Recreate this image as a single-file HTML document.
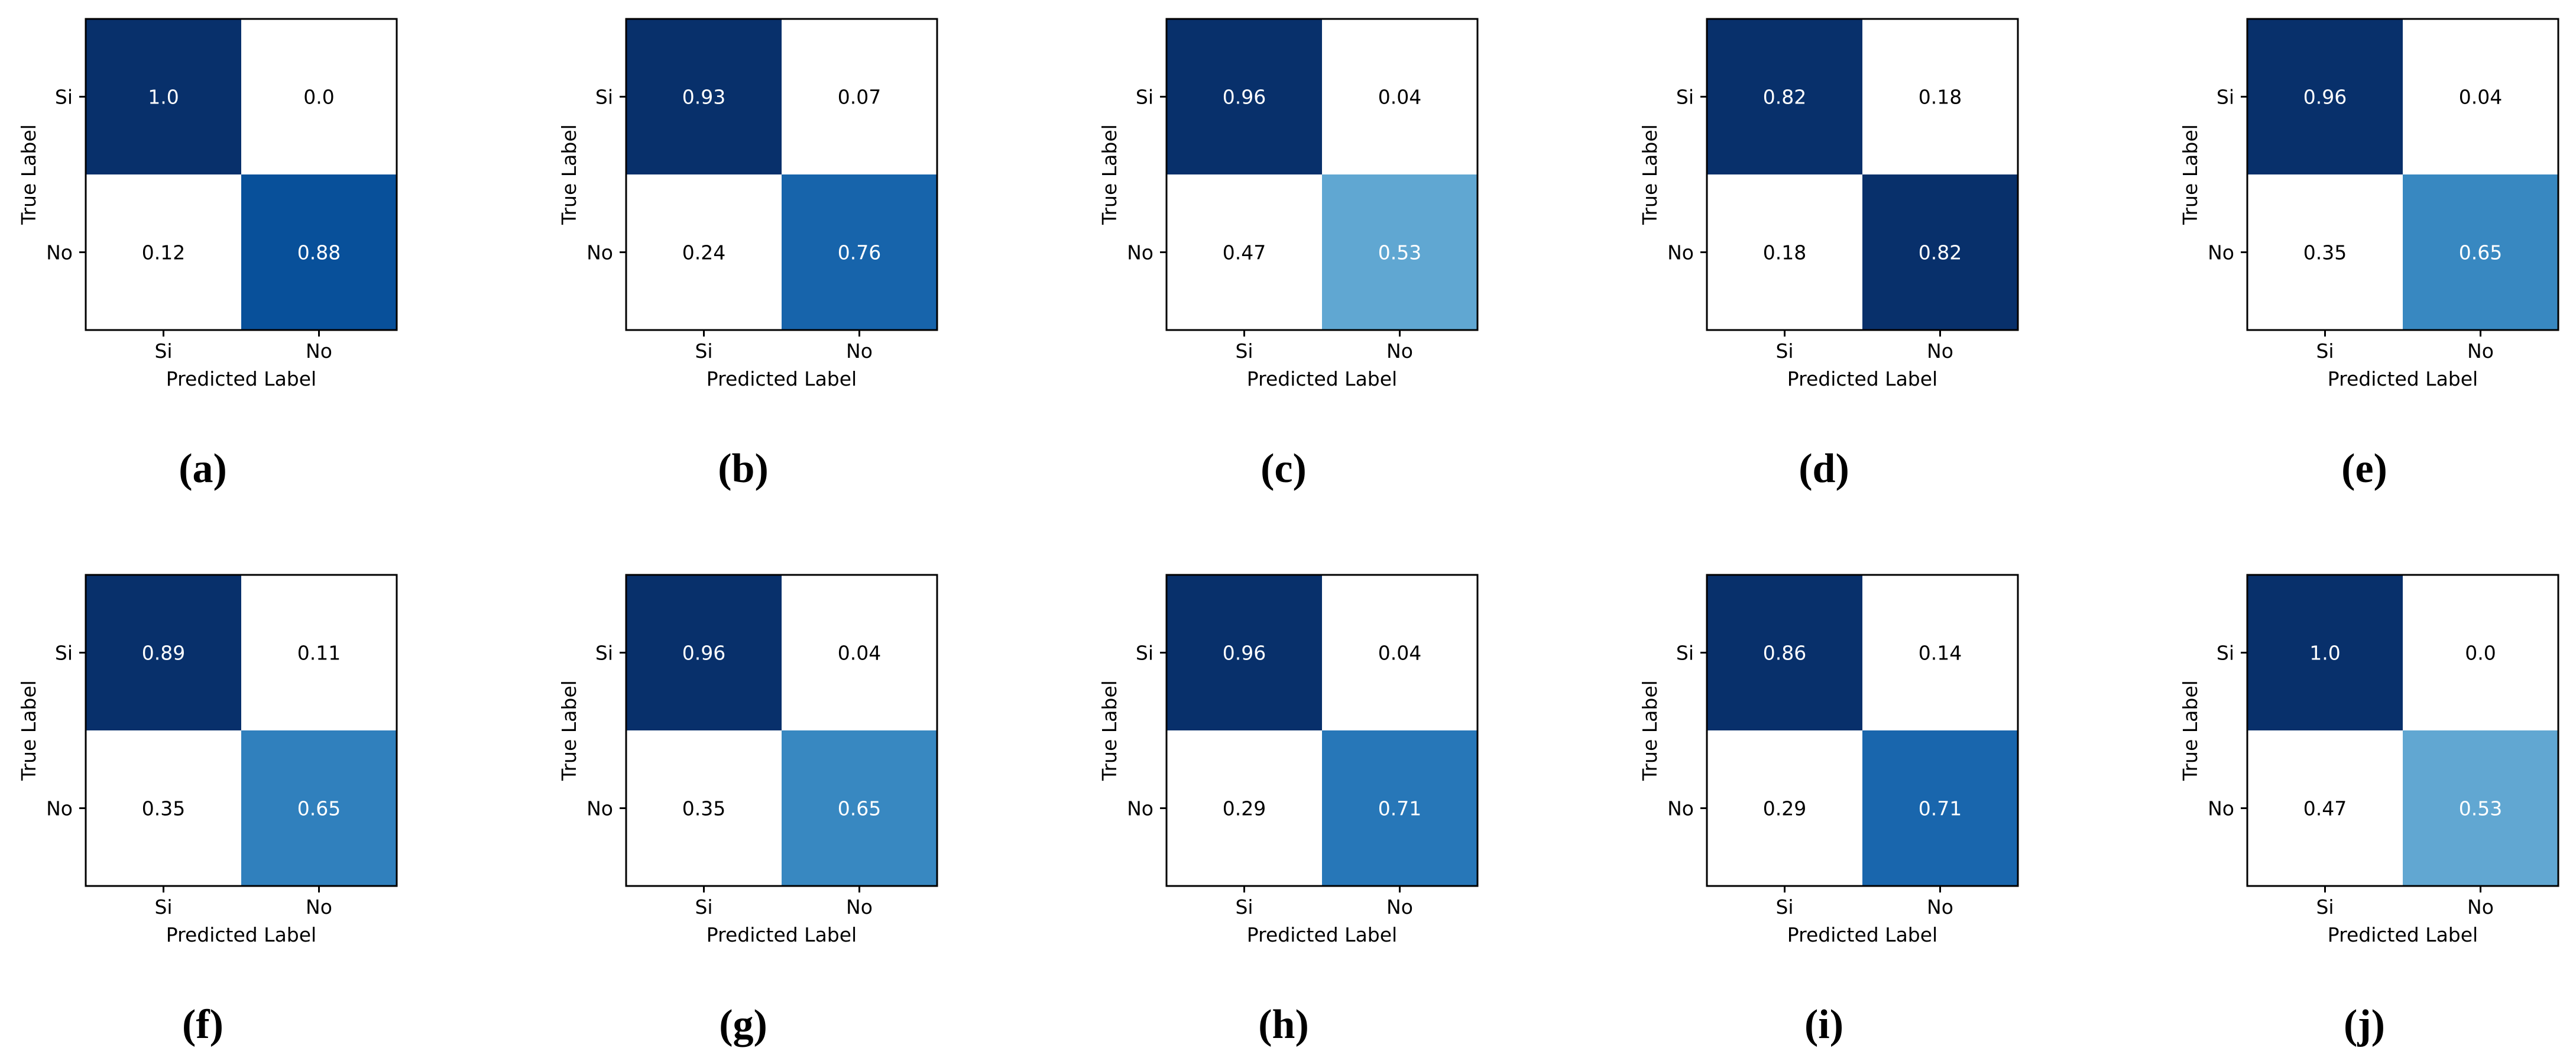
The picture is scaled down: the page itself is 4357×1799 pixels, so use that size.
<!DOCTYPE html>
<html><head><meta charset="utf-8">
<style>
html,body{margin:0;padding:0;background:#fff;}
svg{display:block;}
text{font-family:"DejaVu Sans","Liberation Sans",sans-serif;}
.cap{font-family:"Liberation Serif",serif;font-weight:bold;}
</style></head>
<body>
<svg id="fig" width="4357" height="1799" viewBox="0 0 4357 1799" xmlns="http://www.w3.org/2000/svg"></svg>
<script>
// panel data: row "Si" = [Si,No] predictions, row "No" = [Si,No] predictions
const captions = ["a","b","c","d","e","f","g","h","i","j"];
const rowSi = [[1.0,0.0],[0.93,0.07],[0.96,0.04],[0.82,0.18],[0.96,0.04],[0.89,0.11],[0.96,0.04],[0.96,0.04],[0.86,0.14],[1.0,0.0]];
const rowNo = [[0.12,0.88],[0.24,0.76],[0.47,0.53],[0.18,0.82],[0.35,0.65],[0.35,0.65],[0.35,0.65],[0.29,0.71],[0.29,0.71],[0.47,0.53]];
const classLabels = ["Si","No"];

const blues = ["#f7fbff","#deebf7","#c6dbef","#9ecae1","#6baed6","#4292c6","#2171b5","#08519c","#08306b"];
function hex2rgb(h){return [1,3,5].map(i=>parseInt(h.substr(i,2),16));}
function cmap(t){
  t=Math.max(0,Math.min(1,t));
  const p=t*(blues.length-1), i=Math.min(Math.floor(p),blues.length-2), f=p-i;
  const a=hex2rgb(blues[i]), b=hex2rgb(blues[i+1]);
  return "rgb("+a.map((v,k)=>Math.round(v+(b[k]-v)*f)).join(",")+")";
}
function fmt(v){const s=String(Math.round(v*100)/100);return s.indexOf(".")<0?s+".0":s;}

const NS="http://www.w3.org/2000/svg";
const svg=document.getElementById("fig");
function mk(tag,attrs,parent){const e=document.createElementNS(NS,tag);for(const k in attrs)e.setAttribute(k,attrs[k]);(parent||svg).appendChild(e);return e;}

const BOX=526, X0=145, DX=914, Y0=32, DY=940;
for(let p=0;p<10;p++){
  const col=p%5, row=Math.floor(p/5);
  const bx=X0+col*DX, by=Y0+row*DY, cell=BOX/2;
  const g=mk("g",{});
  
  
  const m=[rowSi[p],rowNo[p]];
  const all=m[0].concat(m[1]);
  const vmin=Math.min(...all), vmax=Math.max(...all);
  for(let r=0;r<2;r++)for(let c=0;c<2;c++){
    const v=m[r][c], t=(v-vmin)/(vmax-vmin);
    const fill = v<0.5 ? "#ffffff" : cmap(t);
    const rect=mk("rect",{x:bx+c*cell,y:by+r*cell,width:cell,height:cell,fill:fill},g);
    
    
    const tx=mk("text",{x:bx+c*cell+cell/2,y:by+r*cell+cell/2+12,"text-anchor":"middle","font-size":33,fill:(v>=0.5&&t>0.5)?"#fff":"#000"},g);
    tx.textContent=fmt(v);
    
    
  }
  const frame=mk("rect",{x:bx,y:by,width:BOX,height:BOX,fill:"none",stroke:"#000","stroke-width":3},g);
  
  
  for(let i=0;i<2;i++){
    const yc=by+i*cell+cell/2, xc=bx+i*cell+cell/2;
    mk("line",{x1:bx-11,x2:bx,y1:yc,y2:yc,stroke:"#000","stroke-width":3},g);
    mk("line",{x1:xc,x2:xc,y1:by+BOX,y2:by+BOX+11,stroke:"#000","stroke-width":3},g);
    const yl=mk("text",{x:bx-22,y:yc+12,"text-anchor":"end","font-size":33},g);
    yl.textContent=classLabels[i];
    
    
    const xl=mk("text",{x:xc,y:by+BOX+47,"text-anchor":"middle","font-size":33},g);
    xl.textContent=classLabels[i];
    
    
  }
  const xt=mk("text",{x:bx+BOX/2,y:by+BOX+94,"text-anchor":"middle","font-size":33},g);
  xt.textContent="Predicted Label";
  
  
  const ycy=by+BOX/2;
  const yt=mk("text",{x:bx-85,y:ycy,"text-anchor":"middle","font-size":33,transform:"rotate(-90 "+(bx-85)+" "+ycy+")"},g);
  yt.textContent="True Label";
  
  
  const cap=mk("text",{x:bx+198,y:by+783,"text-anchor":"middle","font-size":70,"class":"cap"},g);
  cap.textContent="("+captions[p]+")";
  
  
}
</script>
</body></html>
